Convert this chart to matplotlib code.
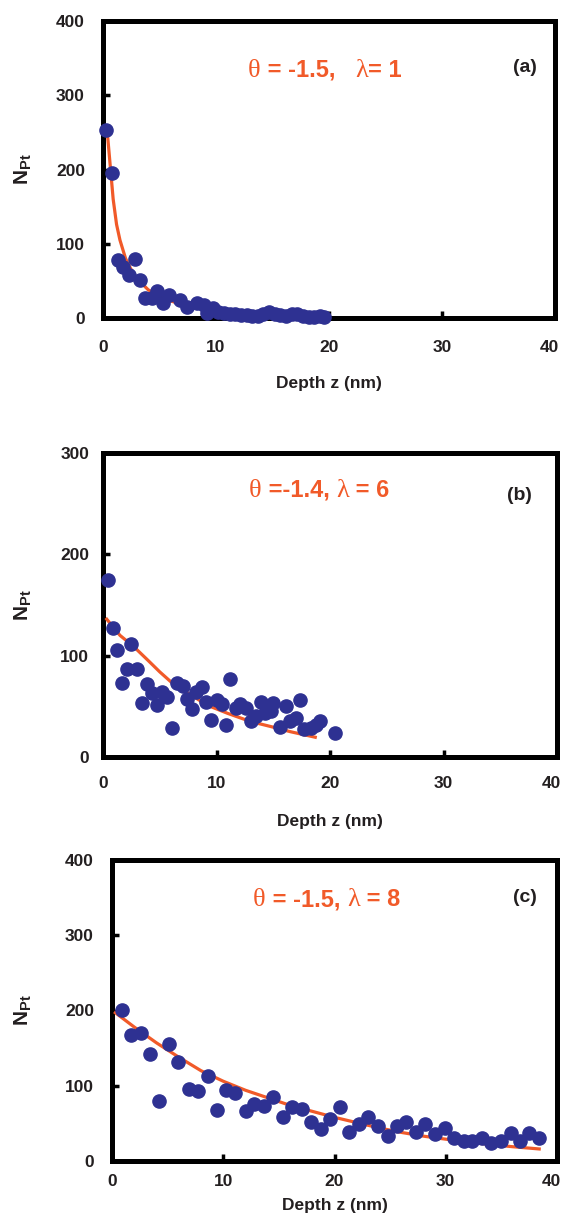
import matplotlib
matplotlib.use('Agg')
import matplotlib.pyplot as plt
from matplotlib.transforms import ScaledTranslation

plt.rcParams['font.family'] = ['Liberation Sans', 'DejaVu Sans']
plt.rcParams['font.weight'] = 'bold'
plt.rcParams['mathtext.fontset'] = 'custom'
plt.rcParams['mathtext.rm'] = 'Liberation Sans:bold'
plt.rcParams['mathtext.bf'] = 'Liberation Sans:bold'

# panel (a): theta = -1.5, lambda = 1
za = [0.3, 0.8, 1.3, 1.8, 2.3, 2.8, 3.3, 3.7, 4.3, 4.8, 5.3, 5.8, 6.8, 7.4, 8.3, 8.9,
      9.2, 9.7, 10.2, 10.7, 11.2, 11.7, 12.2, 12.7, 13.2, 13.7, 14.2, 14.7, 15.2,
      15.7, 16.2, 16.7, 17.2, 17.7, 18.2, 18.7, 19.2, 19.6]
na = [253, 195, 78, 69, 58, 79, 51, 27, 27, 36, 20, 31, 24, 15, 20, 17,
      7, 13, 8, 7, 6, 5, 4, 4, 3, 3, 5, 8, 6,
      4, 3, 5, 6, 3, 2, 2, 3, 2]
fit_za = [0.35, 0.6, 0.9, 1.2, 1.5, 2.0, 2.5, 3.0, 4.0, 5.0, 6.0, 7.0, 8.0, 10.0, 12.0, 14.0, 17.0, 19.0]
fit_na = [255, 212, 160, 126, 105, 80, 65, 53, 38, 29, 23, 18, 14, 10, 7, 5, 4, 3]

# panel (b): theta = -1.4, lambda = 6
zb = [0.47, 0.86, 1.27, 2.5, 2.1, 3.0, 1.7, 3.9, 4.3, 5.2, 5.6, 3.4, 4.75, 6.1, 6.5,
      7.05, 7.4, 7.85, 8.2, 8.7, 9.1, 9.5, 10.0, 10.5, 11.2, 10.8, 11.7, 12.1, 12.6,
      13.0, 13.45, 13.9, 14.3, 15.0, 14.8, 15.6, 16.1, 16.5, 17.0, 17.4, 17.7, 18.3,
      18.8, 19.15, 20.4]
nb = [175, 127, 106, 112, 87, 87, 73, 72, 63, 64, 59, 53, 51, 29, 73,
      70, 57, 47, 64, 69, 54, 37, 56, 52, 77, 32, 48, 52, 48,
      36, 40, 54, 43, 53, 45, 30, 50, 36, 38, 56, 28, 29,
      32, 36, 24]
fit_zb = [0.33, 1.5, 2.7, 4.0, 5.0, 6.1, 7.5, 9.2, 11.0, 13.0, 14.8, 16.5, 18.7]
fit_nb = [136, 120, 109, 95, 84, 73, 63, 51, 43, 35, 30, 25, 19.5]

# panel (c): theta = -1.5, lambda = 8
zc = [0.87, 1.7, 2.6, 3.4, 5.1, 4.25, 5.96, 6.9, 7.7, 8.6, 9.4, 10.25, 11.1, 12.0,
      12.8, 13.7, 14.5, 15.35, 16.2, 17.1, 17.9, 18.8, 19.6, 20.5, 21.3, 22.2, 23.05,
      23.9, 24.8, 25.6, 26.4, 27.3, 28.1, 29.0, 29.9, 30.7, 31.6, 32.4, 33.3, 34.1,
      35.0, 35.9, 36.7, 37.5, 38.4]
nc = [201, 167, 170, 142, 156, 80, 132, 96, 93, 113, 68, 94, 90, 67,
      76, 73, 85, 58, 72, 69, 52, 42, 56, 72, 39, 49, 58,
      47, 33, 46, 52, 38, 49, 36, 44, 30, 26, 27, 30, 24,
      27, 37, 27, 37, 30]
fit_zc = [0.3, 2, 4, 6, 8, 10, 12, 14, 16, 18, 20, 22, 24, 26, 28, 30, 32, 34, 36, 38.4]
fit_nc = [197, 178, 157, 138, 120, 106, 94, 84, 74, 66, 58, 51, 44, 38, 33, 29, 25, 22, 19, 16]

panels = [
    dict(z=za, n=na, fz=fit_za, fn=fit_na, ymax=400, yticks=[0, 100, 200, 300, 400],
         label=['\u03b8', ' = -1.5,   ', '\u03bb', '= 1'], tag='(a)',
         rect=[103/564, 897/1215, 452/564, 297/1215], lab_xy=(248, 77), tag_xy=(0.934, 0.842),
         xpad=16, ypad=13, xlpad=15),
    dict(z=zb, n=nb, fz=fit_zb, fn=fit_nb, ymax=300, yticks=[0, 100, 200, 300],
         label=['\u03b8', ' =-1.4, ', '\u03bb', ' = 6'], tag='(b)',
         rect=[103/564, 458/1215, 454/564, 304/1215], lab_xy=(249, 497), tag_xy=(0.918, 0.859),
         xpad=14, ypad=10, xlpad=16),
    dict(z=zc, n=nc, fz=fit_zc, fn=fit_nc, ymax=400, yticks=[0, 100, 200, 300, 400],
         label=['\u03b8', ' = -1.5, ', '\u03bb', ' = 8'], tag='(c)',
         rect=[112/564, 54/1215, 445/564, 301/1215], lab_xy=(253, 906), tag_xy=(0.928, 0.877),
         xpad=9, ypad=13, xlpad=7),
]

red = '#F15A29'
blue = '#2E3192'
ink = '#231F20'

fig = plt.figure(figsize=(5.64, 12.15), dpi=100)
for p in panels:
    ax = fig.add_axes(p['rect'])
    ax.plot(p['fz'], p['fn'], color=red, lw=2.3, zorder=3)
    ax.plot(p['z'], p['n'], 'o', color=blue, ms=9.5, mec=blue, zorder=4, clip_on=False)
    ax.set_xlim(0, 40)
    ax.set_ylim(0, p['ymax'])
    ax.set_xticks([0, 10, 20, 30, 40])
    ax.set_yticks(p['yticks'])
    for s in ax.spines.values():
        s.set_linewidth(3.6)
        s.set_color('black')
    ax.tick_params(direction='in', length=5, width=2.5, labelsize=12.5, colors='black',
                   labelcolor=ink)
    ax.tick_params(axis='x', pad=p['xpad'])
    ax.tick_params(axis='y', pad=p['ypad'])
    for t in ax.get_xticklabels() + ax.get_yticklabels():
        t.set_fontweight('bold')
    # keep the "40" inside the figure edge
    last = ax.get_xticklabels()[-1]
    last.set_transform(last.get_transform() + ScaledTranslation(-6/100, 0, fig.dpi_scale_trans))
    ax.set_xlabel('Depth z (nm)', fontsize=12.5, fontweight='bold', color=ink, labelpad=p['xlpad'])
    ax.set_ylabel(r'$\mathbf{N_{Pt}}$', fontsize=15, color=ink)
    x0 = p['rect'][0] * 564
    w = p['rect'][2] * 564
    ax.yaxis.set_label_coords((34 - x0) / w, 0.5)

    # annotation: greek letters in a serif face, the rest in bold sans
    lx, ly = p['lab_xy']
    prev = None
    for i, piece in enumerate(p['label']):
        greek = i % 2 == 0
        kw = dict(color=red,
                  fontsize=19 if greek else 17,
                  family=['Liberation Serif'] if greek else ['Liberation Sans'],
                  fontweight='normal' if greek else 'bold')
        if prev is None:
            prev = fig.text(lx / 564, 1 - ly / 1215, piece, ha='left', va='baseline', **kw)
        else:
            prev = ax.annotate(piece, xy=(1, 0), xycoords=prev, ha='left', va='bottom', **kw)

    ax.text(p['tag_xy'][0], p['tag_xy'][1], p['tag'], transform=ax.transAxes,
            ha='center', va='center', fontsize=14, fontweight='bold', color=ink)

fig.savefig('out.png', dpi=100)
